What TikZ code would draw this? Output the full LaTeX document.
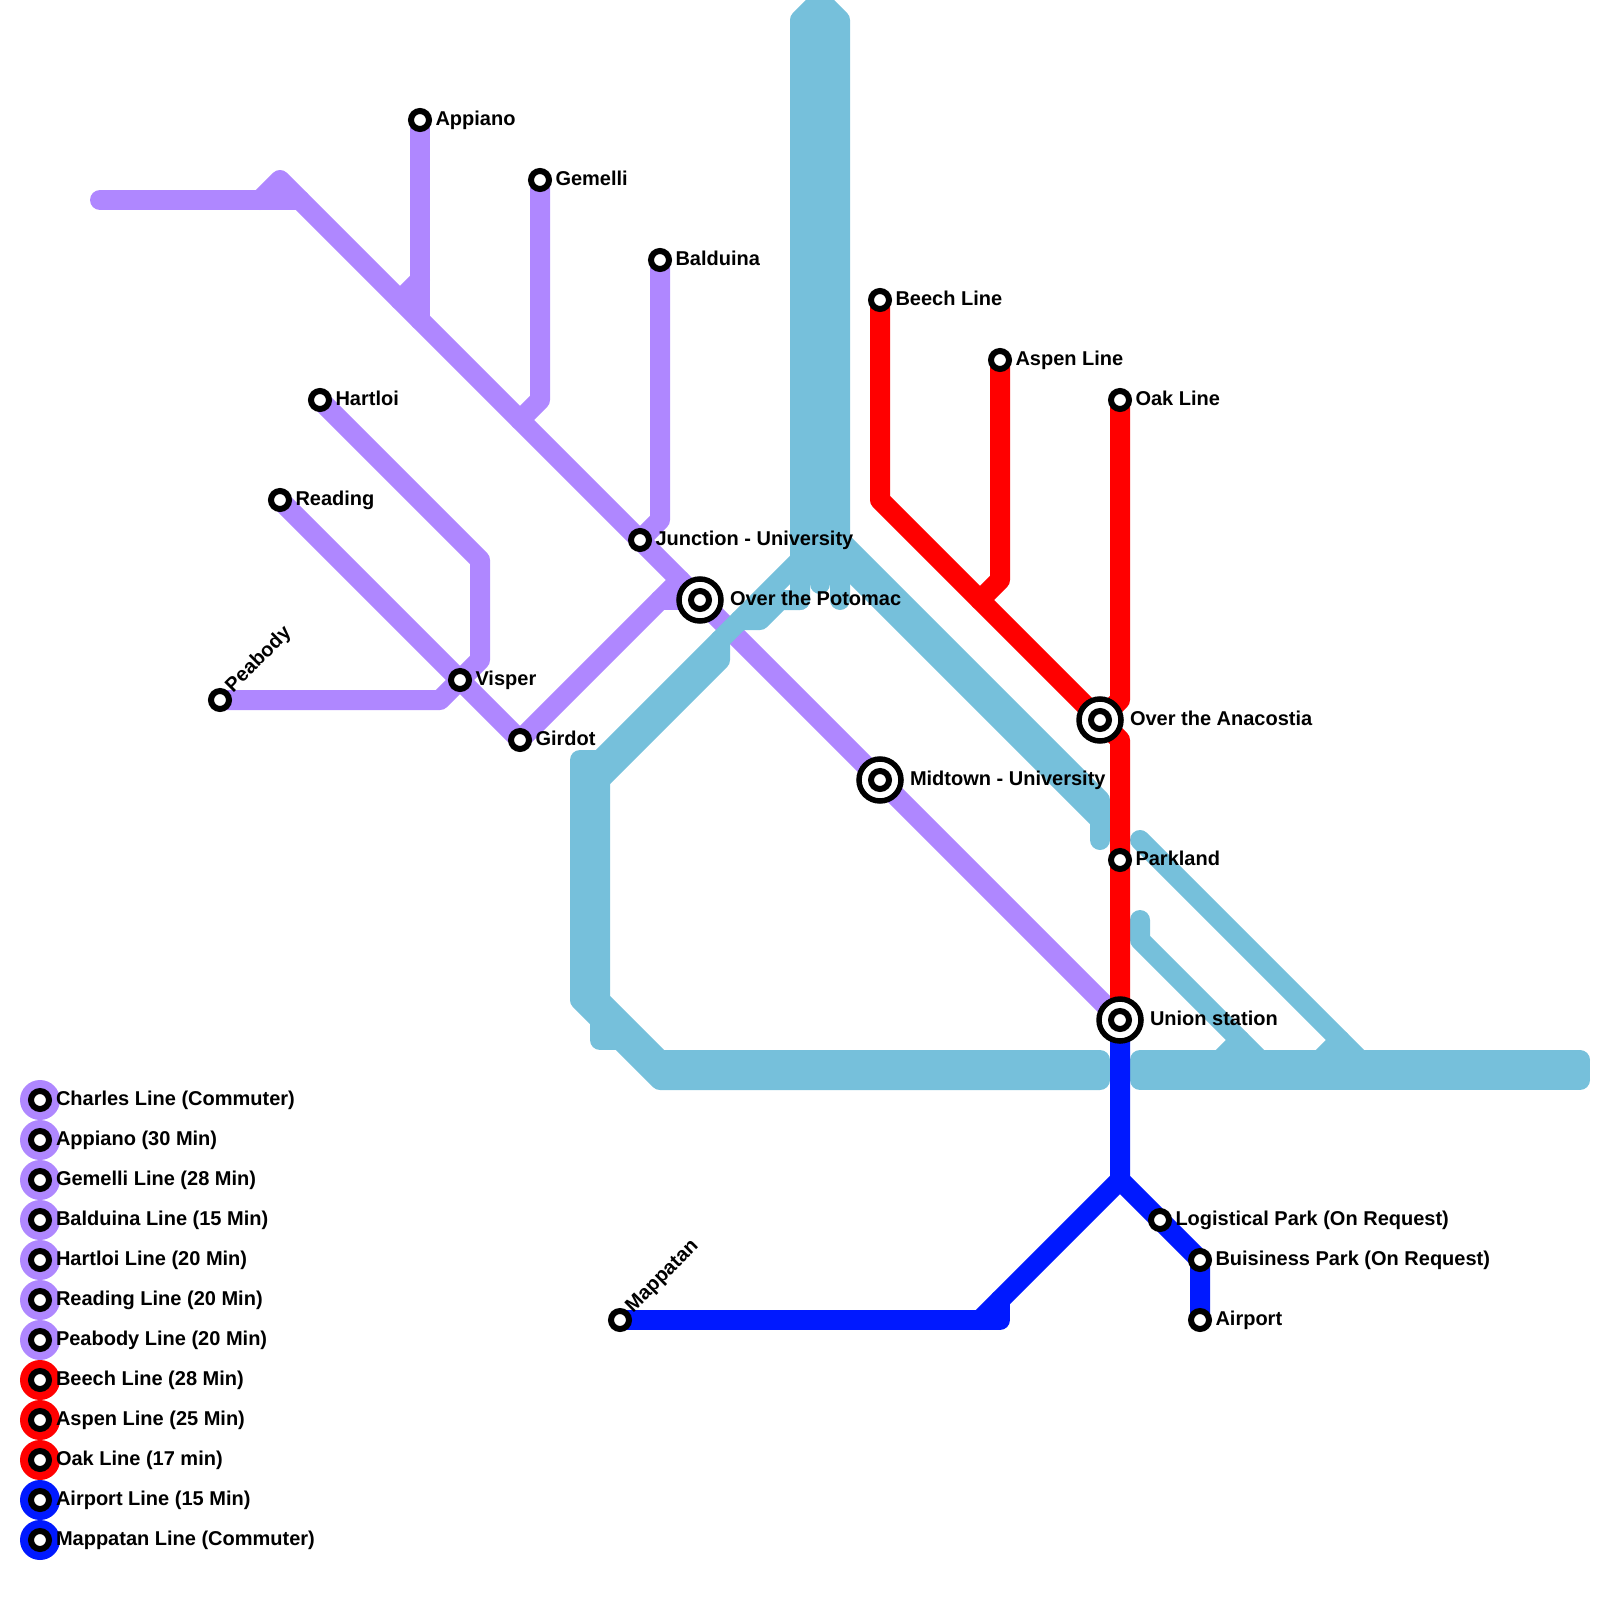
\documentclass[tikz,border=0pt]{standalone}
\usepackage{fontspec}
\setmainfont{Liberation Sans}
\usetikzlibrary{backgrounds}
\definecolor{lpurple}{RGB}{175,135,255}
\definecolor{lcyan}{RGB}{118,192,219}
\definecolor{lred}{RGB}{255,0,0}
\definecolor{lblue}{RGB}{0,25,255}
\tikzset{
  stn/.style={circle,draw=black,line width=6pt,fill=white,minimum size=18pt,inner sep=0pt,outer sep=0pt},
  hubin/.style={circle,draw=black,line width=6pt,fill=white,minimum size=18pt,inner sep=0pt,outer sep=0pt},
  hubout/.style={circle,draw=black,line width=5.5pt,fill=white,minimum size=42pt,inner sep=0pt,outer sep=0pt},
  lbl/.style={anchor=base west,inner sep=0pt,outer sep=0pt,font=\fontsize{20}{20}\selectfont\bfseries},
  rl/.style={line width=20pt,line cap=round,line join=round},
  pl/.style={rl,draw=lpurple},
  cl/.style={rl,draw=lcyan},
  cf/.style={line width=20pt,line cap=butt,draw=lcyan},
  rd/.style={rl,draw=lred},
  bl/.style={rl,draw=lblue},
  lgdot/.style={circle,fill=#1,minimum size=40pt,inner sep=0pt,outer sep=0pt},
}
\newcommand{\stnlbl}[4]{\node[stn] (#1) at (#2,#3) {}; \node[lbl] (t#1) at (#2+15.5,#3+5) {#4};}
\newcommand{\hublbl}[4]{\node[hubout] (#1o) at (#2,#3) {}; \node[hubin] (#1) at (#2,#3) {}; \node[lbl] (t#1) at (#2+30,#3+5) {#4};}
\newcommand{\lgd}[4]{\node[lgdot=#1] (g#2) at (40,#3) {}; \node[stn] (s#2) at (40,#3) {}; \node[lbl] (x#2) at (56,#3+5) {#4};}
\begin{document}
\begin{tikzpicture}[x=1pt,y=-1pt]
\useasboundingbox (0,0) rectangle (1600,1600);
% stations
\stnlbl{appiano}{420}{120}{Appiano}
\stnlbl{gemelli}{540}{180}{Gemelli}
\stnlbl{balduina}{660}{260}{Balduina}
\stnlbl{beech}{880}{300}{Beech Line}
\stnlbl{aspen}{1000}{360}{Aspen Line}
\stnlbl{oak}{1120}{400}{Oak Line}
\stnlbl{hartloi}{320}{400}{Hartloi}
\stnlbl{reading}{280}{500}{Reading}
\stnlbl{visper}{460}{680}{Visper}
\stnlbl{girdot}{520}{740}{Girdot}
\stnlbl{junction}{640}{540}{Junction - University}
\stnlbl{parkland}{1120}{860}{Parkland}
\stnlbl{logistical}{1160}{1220}{Logistical Park (On Request)}
\stnlbl{buisiness}{1200}{1260}{Buisiness Park (On Request)}
\stnlbl{airport}{1200}{1320}{Airport}
\node[stn] (peabody) at (220,700) {};
\node[lbl,rotate=45] (tpeabody) at (233,693) {Peabody};
\node[stn] (mappatan) at (620,1320) {};
\node[lbl,rotate=45] (tmappatan) at (633,1313) {Mappatan};
\hublbl{potomac}{700}{600}{Over the Potomac}
\hublbl{midtown}{880}{780}{Midtown - University}
\hublbl{anacostia}{1100}{720}{Over the Anacostia}
\hublbl{union}{1120}{1020}{Union station}
% legend
\lgd{lpurple}{a}{1100}{Charles Line (Commuter)}
\lgd{lpurple}{b}{1140}{Appiano (30 Min)}
\lgd{lpurple}{c}{1180}{Gemelli Line (28 Min)}
\lgd{lpurple}{d}{1220}{Balduina Line (15 Min)}
\lgd{lpurple}{e}{1260}{Hartloi Line (20 Min)}
\lgd{lpurple}{f}{1300}{Reading Line (20 Min)}
\lgd{lpurple}{g}{1340}{Peabody Line (20 Min)}
\lgd{lred}{h}{1380}{Beech Line (28 Min)}
\lgd{lred}{i}{1420}{Aspen Line (25 Min)}
\lgd{lred}{j}{1460}{Oak Line (17 min)}
\lgd{lblue}{k}{1500}{Airport Line (15 Min)}
\lgd{lblue}{l}{1540}{Mappatan Line (Commuter)}
% free ends
\coordinate (pwest) at (100,200);
\coordinate (ptop) at (280,180);
\coordinate (ajoin) at (400,300);
\coordinate (gjoin) at (520,420);
\coordinate (ctop) at (820,0);
\begin{pgfonlayer}{background}
% purple
\draw[pl] (pwest) -- (300,200);
\draw[pl] (260,200) -- (ptop) -- (union.center);
\draw[pl] (appiano.center) -- (420,320);
\draw[pl] (420,280) -- (ajoin);
\draw[pl] (gemelli.center) -- (540,400) -- (gjoin);
\draw[pl] (balduina.center) -- (660,520) -- (junction.center);
\draw[pl] (hartloi.center) -- (480,560) -- (480,660) -- (visper.center);
\draw[pl] (reading.center) -- (girdot.center);
\draw[pl] (peabody.center) -- (440,700) -- (visper.center);
\draw[pl] (girdot.center) -- (680,580);
\draw[pl] (660,600) -- (potomac.center);
% cyan: the top trunk
\draw[cl] (ctop) -- (800,20) -- (800,600);
\draw[cl] (810,20) -- (810,560);
\draw[cl] (820,20) -- (820,584);
\draw[cl] (830,20) -- (830,560);
\draw[cl] (ctop) -- (840,20) -- (840,600);
\draw[cl] (ctop) -- (820,20);
% cyan: south-west branch
\draw[cl] (800,560) -- (600,760) -- (580,760) -- (580,1000) -- (660,1080) -- (1100,1080);
\draw[cl] (600,760) -- (600,1000) -- (660,1060) -- (1100,1060);
\draw[cl] (590,760) -- (590,1000);
\draw[cf] (660,1070) -- (1110,1070);
\draw[cl] (720,640) -- (720,660) -- (600,780);
\draw[cl] (740,620) -- (760,620) -- (780,600) -- (800,600);
\draw[cl] (600,1020) -- (600,1040) -- (620,1040);
% cyan: south-east branch
\draw[cl] (840,560) -- (1100,820) -- (1100,840);
\draw[cl] (840,540) -- (1100,800) -- (1100,820);
% cyan: east of the red line
\draw[cl] (1140,1060) -- (1580,1060);
\draw[cf] (1130,1070) -- (1590,1070);
\draw[cl] (1140,1080) -- (1580,1080);
\draw[cl] (1140,840) -- (1360,1060);
\draw[cl] (1340,1040) -- (1320,1060);
\draw[cl] (1140,920) -- (1140,940) -- (1260,1060);
\draw[cl] (1240,1040) -- (1220,1060);
% red
\draw[rd] (beech.center) -- (880,500) -- (anacostia.center);
\draw[rd] (aspen.center) -- (1000,580) -- (980,600);
\draw[rd] (oak.center) -- (1120,700) -- (anacostia.center);
\draw[rd] (anacostia.center) -- (1120,740) -- (union.center);
% blue
\draw[bl] (union.center) -- (1120,1180) -- (buisiness.center) -- (airport.center);
\draw[bl] (1120,1180) -- (980,1320);
\draw[bl] (1000,1300) -- (1000,1320) -- (mappatan.center);
\end{pgfonlayer}
\end{tikzpicture}
\end{document}
